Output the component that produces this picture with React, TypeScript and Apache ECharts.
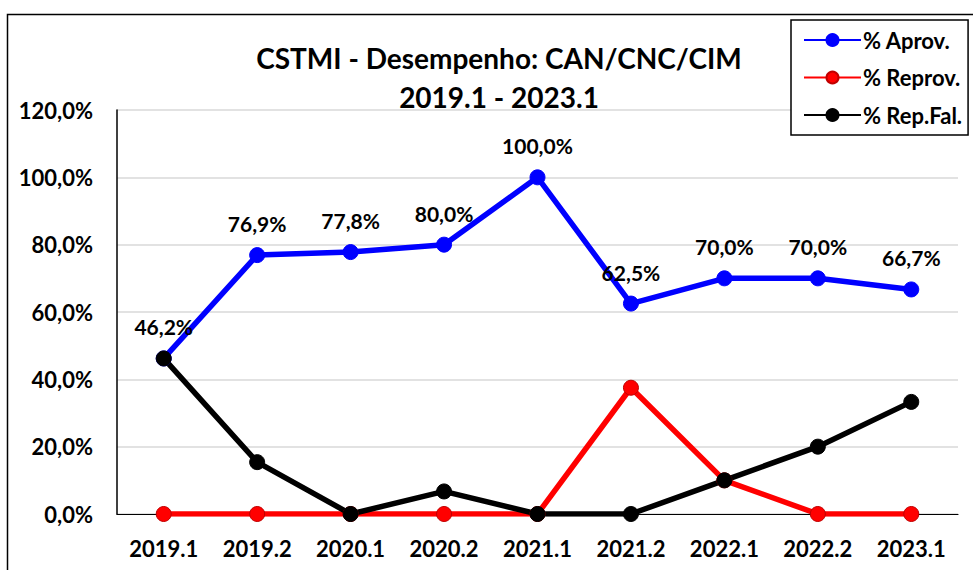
import React, { useEffect, useRef } from "react";
import * as echarts from "echarts";

const categories = ["2019.1", "2019.2", "2020.1", "2020.2", "2021.1", "2021.2", "2022.1", "2022.2", "2023.1"];
const aprov = [46.2, 76.9, 77.8, 80.0, 100.0, 62.5, 70.0, 70.0, 66.7];
const reprov = [0, 0, 0, 0, 0, 37.5, 10.0, 0, 0];
const repFal = [46.2, 15.4, 0, 6.7, 0, 0, 10.0, 20.0, 33.3];
const yTicks = [0, 20, 40, 60, 80, 100, 120];

const FONT = "Lato, 'Open Sans', sans-serif";
const fmt = (v: number) => v.toFixed(1).replace(".", ",") + "%";

export default function App() {
  const ref = useRef<HTMLDivElement>(null);
  useEffect(() => {
    document.body.style.margin = "0";
    const chart = echarts.init(ref.current!, null, { renderer: "svg" });
    const mkSeries = (name: string, data: number[], color: string, label: boolean) => ({
      name,
      type: "line",
      data,
      symbol: "circle",
      symbolSize: 15,
      lineStyle: { width: 5.5, color },
      itemStyle: { color, borderColor: color === "#FF0000" ? "#C00000" : color, borderWidth: 1 },
      label: label
        ? {
            show: true,
            position: "top",
            distance: 13,
            formatter: (p: any) => fmt(p.value),
            fontFamily: FONT,
            fontWeight: "bold",
            fontSize: 21,
            color: "#000",
          }
        : { show: false },
      emphasis: { disabled: true },
    });
    chart.setOption({
      animation: false,
      title: {
        text: "CSTMI - Desempenho: CAN/CNC/CIM\n2019.1 - 2023.1",
        left: 494,
        textAlign: "center",
        top: 33,
        textStyle: { fontFamily: FONT, fontWeight: "bold", fontSize: 28, lineHeight: 39, color: "#000" },
      },
      legend: {
        orient: "vertical",
        left: 791,
        top: 20,
        padding: [8, 6, 8, 12],
        itemGap: 13.5,
        itemWidth: 57,
        itemHeight: 15,
        borderColor: "#000",
        borderWidth: 1.5,
        backgroundColor: "#fff",
        textStyle: { fontFamily: FONT, fontWeight: "bold", fontSize: 22, lineHeight: 24, color: "#000", padding: [0, 0, 0, -3] },
        data: ["% Aprov.", "% Reprov.", "% Rep.Fal."],
      },
      grid: { left: 117, right: 15, top: 110, bottom: 56, containLabel: false },
      xAxis: {
        type: "category",
        data: categories,
        boundaryGap: true,
        axisLine: { lineStyle: { color: "#000", width: 1.2 } },
        axisTick: { show: false },
        axisLabel: { fontFamily: FONT, fontWeight: "bold", fontSize: 22, color: "#000", margin: 23 },
      },
      yAxis: {
        type: "value",
        min: yTicks[0],
        max: yTicks[yTicks.length - 1],
        interval: 20,
        axisLine: { show: true, lineStyle: { color: "#000", width: 1.5 } },
        axisTick: { show: false },
        splitLine: { lineStyle: { color: "#D9D9D9", width: 1.5 } },
        axisLabel: {
          fontFamily: FONT,
          fontWeight: "bold",
          fontSize: 22,
          color: "#000",
          margin: 24,
          formatter: (v: number) => fmt(v),
        },
      },
      graphic: [
        {
          type: "rect",
          left: 5,
          top: 12,
          shape: { x: 0, y: 0, width: 1000, height: 600 },
          style: { fill: "none", stroke: "#000", lineWidth: 1.5 },
          silent: true,
          z: -10,
        },
      ],
      series: [
        mkSeries("% Aprov.", aprov, "#0000FF", true),
        mkSeries("% Reprov.", reprov, "#FF0000", false),
        mkSeries("% Rep.Fal.", repFal, "#000000", false),
      ],
    });
    return () => chart.dispose();
  }, []);
  return <div ref={ref} style={{ width: 973, height: 570 }} />;
}
